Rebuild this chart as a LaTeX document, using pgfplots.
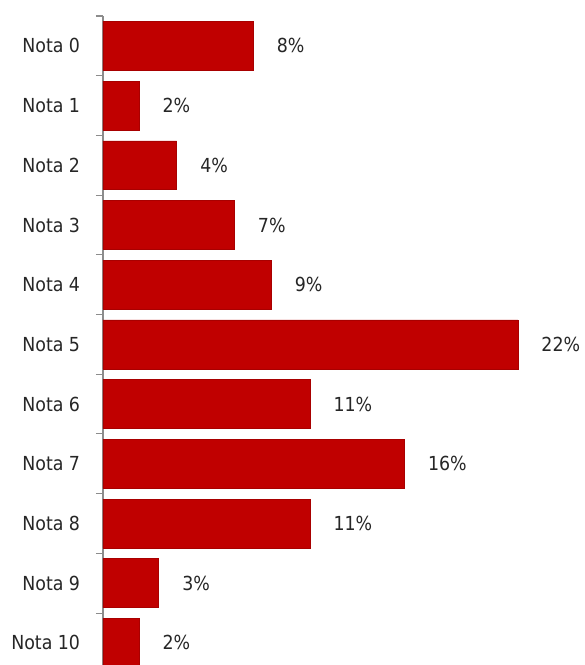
\documentclass[border=0pt]{standalone}
\usepackage{fontspec}
\setmainfont{DejaVu Sans Condensed}
\usepackage{pgfplots}
\pgfplotsset{compat=1.18}
\definecolor{barred}{HTML}{C00000}
\definecolor{bardark}{HTML}{A80000}
\definecolor{axgrey}{HTML}{8C8C8C}
\definecolor{txt}{HTML}{262626}
\begin{document}
\begin{tikzpicture}
\begin{axis}[
  at={(0,0)}, anchor=south west,
  scale only axis,
  width=361.5pt, height=486.75pt,
  xbar, bar width=0.82,
  xmin=0, xmax=25.5,
  ymin=-0.5, ymax=10.37,
  y dir=reverse,
  clip=false,
  axis x line=none,
  axis y line*=left,
  y axis line style={axgrey, line width=0.8pt},
  ytick={0,...,10},
  yticklabels={Nota 0,Nota 1,Nota 2,Nota 3,Nota 4,Nota 5,Nota 6,Nota 7,Nota 8,Nota 9,Nota 10},
  major tick length=0pt,
  minor ytick={-0.5,0.5,...,10.5},
  minor tick length=5.25pt,
  tick align=outside,
  minor tick style={axgrey, line width=0.8pt},
  yticklabel style={font=\fontsize{14.5pt}{17pt}\selectfont, text=txt, anchor=east, inner sep=0pt, xshift=-17pt},
  nodes near coords={\pgfplotspointmeta\%},
  point meta=explicit symbolic,
  nodes near coords style={font=\fontsize{14.5pt}{17pt}\selectfont, text=txt, anchor=west, inner sep=0pt, xshift=17.5pt},
]
\addplot[fill=barred, draw=bardark, line width=0.4pt] coordinates {
  (7.95,0) [8]
  (1.9,1) [2]
  (3.9,2) [4]
  (6.95,3) [7]
  (8.9,4) [9]
  (21.95,5) [22]
  (10.95,6) [11]
  (15.95,7) [16]
  (10.95,8) [11]
  (2.95,9) [3]
  (1.9,10) [2]
};
\end{axis}
\pgfresetboundingbox
\path[use as bounding box] (-77.25pt,0) rectangle (361.5pt,498.75pt);
\end{tikzpicture}
\end{document}
